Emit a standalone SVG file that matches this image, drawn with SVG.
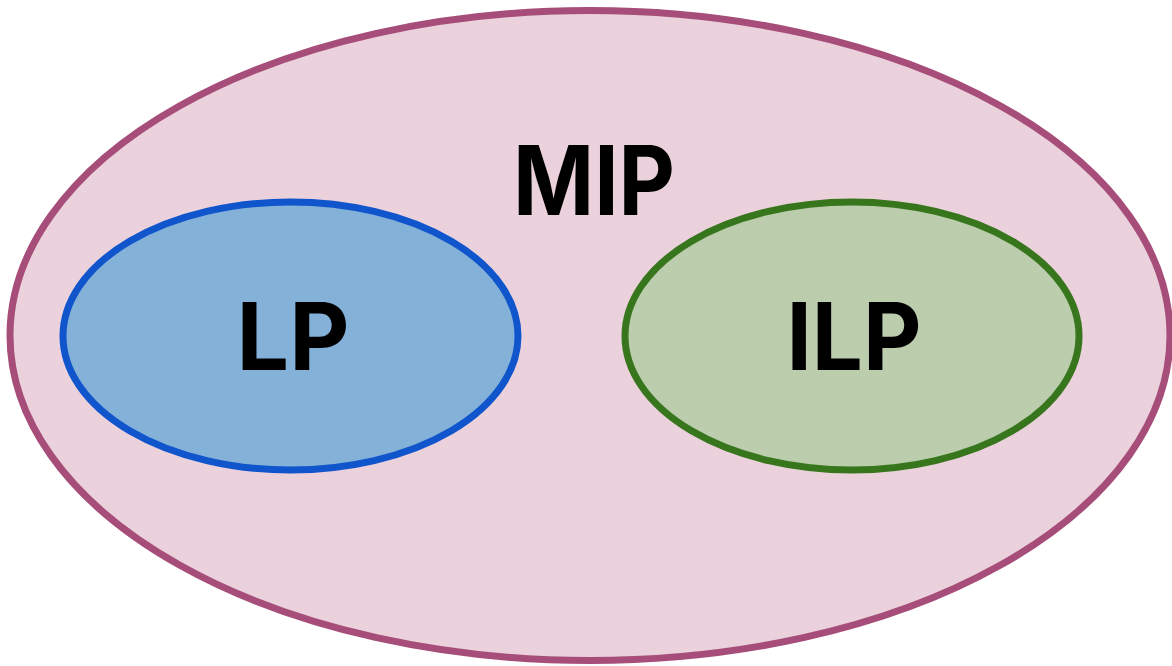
<svg xmlns="http://www.w3.org/2000/svg" width="1172" height="666" viewBox="0 0 1172 666">
<style>
.lbl{font-family:Inter,"Liberation Sans",sans-serif;font-weight:700;fill:#000;text-anchor:middle}
.e{stroke-width:7}
</style>
<rect width="1172" height="666" fill="#ffffff"/>
<g id="MIP">
<ellipse class="e" cx="590" cy="335.5" rx="580" ry="325" fill="#ead1dc" stroke="#a64d79"/>
<text class="lbl" x="594" y="215" font-size="96" textLength="162" lengthAdjust="spacingAndGlyphs">MIP</text>
</g>
<g id="LP">
<ellipse class="e" cx="290.5" cy="336" rx="227.5" ry="134" fill="#83b1d8" stroke="#1155cc"/>
<text class="lbl" x="293" y="370" font-size="93">LP</text>
</g>
<g id="ILP">
<ellipse class="e" cx="852" cy="336" rx="227" ry="134" fill="#bccdad" stroke="#38761d"/>
<text class="lbl" x="854" y="370" font-size="93" textLength="135" lengthAdjust="spacingAndGlyphs">ILP</text>
</g>
<g id="connectors"></g>
</svg>
